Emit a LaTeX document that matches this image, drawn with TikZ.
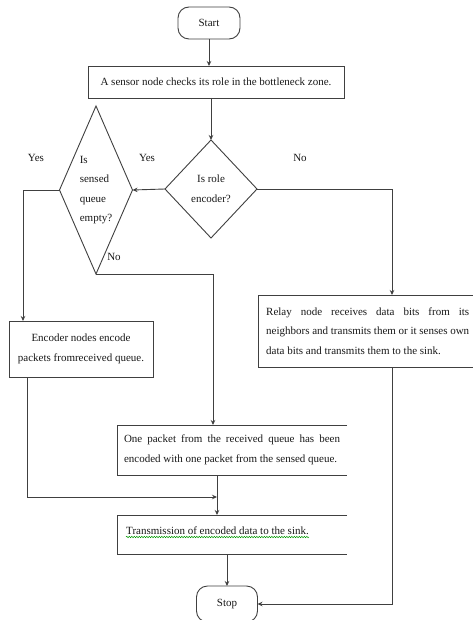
\documentclass[tikz,border=0pt]{standalone}
\usepackage{fontspec}
\setmainfont{Liberation Serif}
\usetikzlibrary{shapes.geometric,arrows.meta,calc,decorations.pathmorphing}
\begin{document}
\begin{tikzpicture}[x=1pt,y=-1pt,
  every node/.style={font=\fontsize{11}{19.5}\selectfont, text=black!90},
  box/.style={draw=black!75, line width=0.9pt, rectangle, inner sep=0pt, outer sep=0pt},
  term/.style={box, rounded corners=11pt},
  dec/.style={draw=black!75, line width=0.9pt, diamond, inner sep=0pt, outer sep=0pt, align=left},
  line/.style={draw=black!75, line width=0.9pt},
  arr/.style={line, -{Stealth[length=5pt,width=4.5pt]}},
  lbl/.style={inner sep=0pt}
]
\useasboundingbox (0,0) rectangle (473,620);
\fill[white] (0,0) rectangle (473,620);

\node[term, minimum width=62, minimum height=32] (start) at (209,23) {Start};
\node[box, minimum width=256, minimum height=32] (b1) at (216,82) {A sensor node checks its role in the bottleneck zone.};
\node[dec, minimum width=92, minimum height=98, shape aspect=0.94, align=center] (d1) at (211,189) {Is role\\encoder?};
\node[dec, minimum width=73, minimum height=168, shape aspect=0.435] (d2) at (96,190) {Is\\sensed\\queue\\empty?};

\node[box, anchor=north west, minimum width=227, minimum height=72] (relay) at (258,295) {};
\node[anchor=west, inner sep=0pt, text width=203, align=justify] (rtxt) at (266,331) {Relay node receives data bits from its\linebreak neighbors and transmits them or it senses own\linebreak data bits and transmits them to the sink.};

\node[box, anchor=north west, minimum width=144, minimum height=56, align=center] (enc) at (9,321) {Encoder nodes encode\\packets fromreceived queue.};

\node[anchor=north west, minimum width=230, minimum height=50, inner sep=0pt, outer sep=0pt, text width=216, align=justify] (op) at (117,425) {One packet from the received queue has been\linebreak encoded with one packet from the sensed queue.};
\draw[line] (op.north east) -- (op.north west) -- (op.south west) -- (op.south east);

\node[anchor=north west, minimum width=230, minimum height=39, inner sep=0pt, outer sep=0pt] (tx) at (117,515) {};
\draw[line] (tx.north east) -- (tx.north west) -- (tx.south west) -- (tx.south east);
\node[anchor=base west, inner sep=0pt] (txt) at (126,534) {Transmission of encoded data to the sink.};
\draw[green!60!black, line width=0.5pt, decorate, decoration={snake, amplitude=0.7pt, segment length=2.5pt}] ($(txt.base west)+(0,3)$) -- ($(txt.base east)+(0,3)$);

\node[term, minimum width=61, minimum height=36] (stop) at (227,604) {Stop};

\draw[arr] (start.south) -- (start.south |- b1.north);
\draw[arr] (d1.north |- b1.south) -- (d1.north);
\draw[arr] (d1.west) -- (d2.east);
\draw[arr] (d2.west) -| ($(enc.north west)+(14,0)$);
\draw[arr] (d2.south) -| ($(op.north west)+(96,0)$);
\draw[arr] (d1.east) -| ($(relay.north west)+(134,0)$);
\draw[arr] ($(op.south west)+(100,0)$) -- ($(tx.north west)+(100,0)$);
\coordinate (m) at ($(op.south west)+(100,22)$);
\draw[arr] ($(enc.south west)+(18,0)$) |- (m);
\draw[arr] (stop.north |- tx.south) -- (stop.north);
\draw[arr] ($(relay.south west)+(134,0)$) |- (stop.east);

\node[lbl] (y1) at (36,158) {Yes};
\node[lbl] (y2) at (147,158) {Yes};
\node[lbl] (n1) at (300,158) {No};
\node[lbl] (n2) at (114,257) {No};
\end{tikzpicture}
\end{document}
